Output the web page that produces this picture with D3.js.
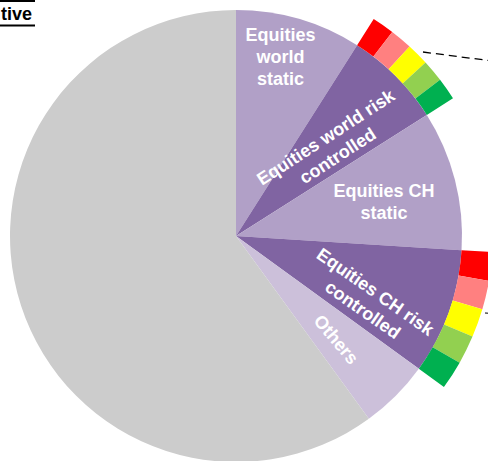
<!DOCTYPE html>
<html>
<head>
<meta charset="utf-8">
<script src="https://cdn.jsdelivr.net/npm/d3@7"></script>
<style>
  body { margin: 0; background: #fff; }
  svg { display: block; font-family: "Liberation Sans", Arial, sans-serif; }
</style>
</head>
<body>
<div class="chart"></div>
<script>
// slice names and shares (%), clockwise from 12 o'clock
var categories = ["Equities world static", "Equities world risk controlled", "Equities CH static",
                  "Equities CH risk controlled", "Others", "Rest"];
var shares = [9, 7, 10, 9, 5, 60];
var labelLines = [["Equities", "world", "static"], ["Equities world risk", "controlled"],
                  ["Equities CH", "static"], ["Equities CH risk", "controlled"], ["Others"], []];
// risk bands drawn round the risk controlled slices
var riskBands = ["very high", "high", "medium", "low", "very low"];
var bandedSlices = ["Equities world risk controlled", "Equities CH risk controlled"];
var titleText = "tive";

function init() {
    var w = 488;
    var h = 461;
    var cx = 236, cy = 236;
    var r = 226, ringOuter = 257;

    var sliceColor = d3.scaleOrdinal()
        .domain(categories)
        .range(["#b1a0c7", "#8064a2", "#b1a0c7", "#8064a2", "#ccc0da", "#cccccc"]);
    var bandColor = d3.scaleOrdinal()
        .domain(riskBands)
        .range(["#ff0000", "#ff8080", "#ffff00", "#92d050", "#00b050"]);

    // where each label sits: distance from centre, angle (deg from top) and text rotation
    var labelPos = [
        { d: 184, a: 14, rot: 0 },
        { d: 131, a: 47, rot: -33 },
        { d: 152, a: 77, rot: 0 },
        { d: 148, a: 116, rot: 35 },
        { d: 144, a: 136, rot: 50 },
        null
    ];

    var data = categories.map(function (c, i) { return { name: c, value: shares[i], lines: labelLines[i] }; });

    var pie = d3.pie()
        .value(function (d) { return d.value; })
        .sort(null);
    var arcs = pie(data);

    var arc = d3.arc().innerRadius(0).outerRadius(r);
    var ring = d3.arc().innerRadius(r).outerRadius(ringOuter);

    var svg = d3.select(".chart")
        .append("svg")
        .attr("width", w)
        .attr("height", h);

    var g = svg.append("g").attr("transform", "translate(" + cx + "," + cy + ")");

    g.selectAll("path.slice")
        .data(arcs)
        .enter()
        .append("path")
        .attr("class", "slice")
        .attr("d", arc)
        .style("fill", function (d) { return sliceColor(d.data.name); });

    // five risk bands per banded slice, splitting its angle evenly
    arcs.filter(function (d) { return bandedSlices.indexOf(d.data.name) >= 0; })
        .forEach(function (s) {
            var step = (s.endAngle - s.startAngle) / riskBands.length;
            g.selectAll(null)
                .data(riskBands)
                .enter()
                .append("path")
                .attr("d", function (b, i) {
                    return ring({ startAngle: s.startAngle + i * step, endAngle: s.startAngle + (i + 1) * step });
                })
                .style("fill", function (b) { return bandColor(b); });
        });

    // labels
    arcs.forEach(function (s, i) {
        var p = labelPos[i];
        if (!p) return;
        var rad = p.a * Math.PI / 180;
        var x = p.d * Math.sin(rad), y = -p.d * Math.cos(rad);
        var lh = 22;
        var t = g.append("text")
            .attr("transform", "translate(" + x + "," + y + ") rotate(" + p.rot + ")")
            .attr("text-anchor", "middle")
            .style("fill", "#fff")
            .style("font-weight", "bold")
            .style("font-size", "18px");
        s.data.lines.forEach(function (line, k) {
            t.append("tspan")
                .attr("x", 0)
                .attr("y", (k - (s.data.lines.length - 1) / 2) * lh + 6)
                .text(line);
        });
    });

    // dashed leader lines off to the right
    svg.append("line")
        .attr("x1", 423).attr("y1", 52)
        .attr("x2", 500).attr("y2", 62)
        .style("stroke", "#000")
        .style("stroke-width", 1.3)
        .style("stroke-dasharray", "8,5");
    svg.append("line")
        .attr("x1", 485).attr("y1", 313)
        .attr("x2", 520).attr("y2", 316)
        .style("stroke", "#555")
        .style("stroke-width", 1.3)
        .style("stroke-dasharray", "8,5");

    // clipped title at top left
    svg.append("line")
        .attr("x1", 0).attr("y1", 1).attr("x2", 35).attr("y2", 1)
        .style("stroke", "#000").style("stroke-width", 2);
    svg.append("text")
        .attr("x", 32).attr("y", 20)
        .attr("text-anchor", "end")
        .style("font-weight", "bold")
        .style("font-size", "18px")
        .text(titleText);
    svg.append("line")
        .attr("x1", 0).attr("y1", 25.5).attr("x2", 35).attr("y2", 25.5)
        .style("stroke", "#000").style("stroke-width", 2);
}

init();
</script>
</body>
</html>
